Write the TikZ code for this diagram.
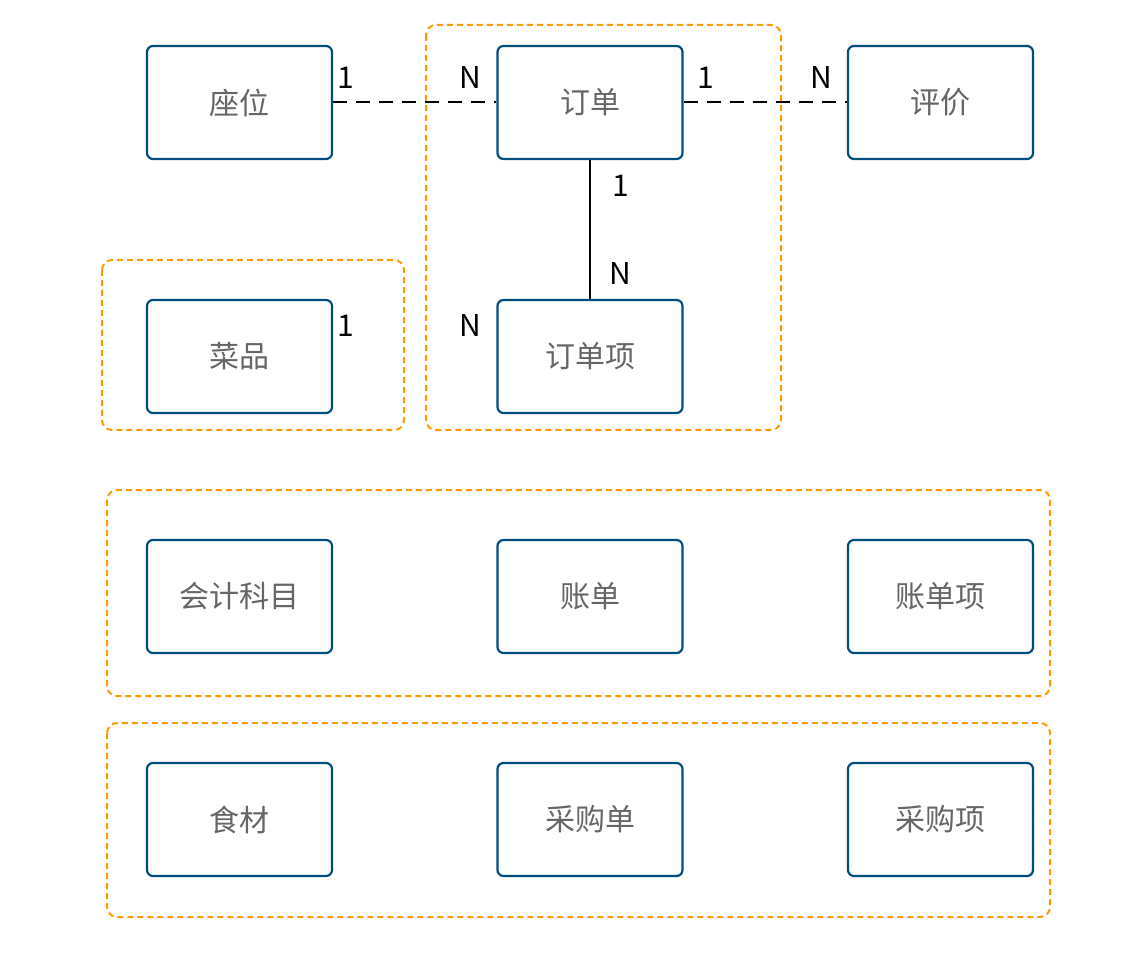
\documentclass[tikz,border=0pt]{standalone}
\usepackage{fontspec}
\setmainfont{Noto Sans CJK SC}
\usetikzlibrary{positioning}
\definecolor{boxblue}{RGB}{0,77,128}
\definecolor{grporange}{RGB}{255,153,0}
\definecolor{txtgray}{RGB}{102,102,102}

\tikzset{
	entity/.style={draw=boxblue, line width=1.1pt, rounded corners=3pt, fill=white,
		minimum width=92.5pt, minimum height=56.5pt, inner sep=0pt,
		text=txtgray, font=\fontsize{15}{17}\selectfont},
	group/.style={draw=grporange, line width=1pt, dash pattern=on 3pt off 2pt, rounded corners=5pt},
	rel/.style={draw=black, line width=1pt},
	card/.style={inner sep=0pt, font=\fontsize{15}{17}\selectfont}
}

\begin{document}
\begin{tikzpicture}[x=0.5pt, y=-0.5pt]
			\useasboundingbox (0,0) rectangle (1128,956);
			% entities
			\node[entity] (seat) at (239.5,102.5) {座位};
			\node[entity] (order) at (590,102.5) {订单};
			\node[entity] (review) at (940.5,102.5) {评价};
			\node[entity] (dish) at (239.5,356.5) {菜品};
			\node[entity] (orderitem) at (590,356.5) {订单项};
			\node[entity] (account) at (239.5,596.5) {会计科目};
			\node[entity] (bill) at (590,596.5) {账单};
			\node[entity] (billitem) at (940.5,596.5) {账单项};
			\node[entity] (food) at (239.5,819.5) {食材};
			\node[entity] (purchase) at (590,819.5) {采购单};
			\node[entity] (purchaseitem) at (940.5,819.5) {采购项};
			% relations
			\draw[rel, dash pattern=on 7pt off 4.5pt] (seat) -- (order);
			\draw[rel, dash pattern=on 7pt off 4.5pt] (order) -- (review);
			\draw[rel] (order) -- (orderitem);
			% groups
			\draw[group] (102,260) rectangle (404,430);
			\draw[group] (426,25) rectangle (781,430);
			\draw[group] (107,490) rectangle (1050,696);
			\draw[group] (107,723) rectangle (1050,917);
			% cardinalities
			\node[card] (c1) at (346,78) {1};
			\node[card] (c2) at (470,78) {N};
			\node[card] (c3) at (706,78) {1};
			\node[card] (c4) at (821,78) {N};
			\node[card] (c5) at (621,186) {1};
			\node[card] (c6) at (620,274) {N};
			\node[card] (c7) at (470,326) {N};
			\node[card] (c8) at (346,326) {1};
	\end{tikzpicture}
\end{document}
